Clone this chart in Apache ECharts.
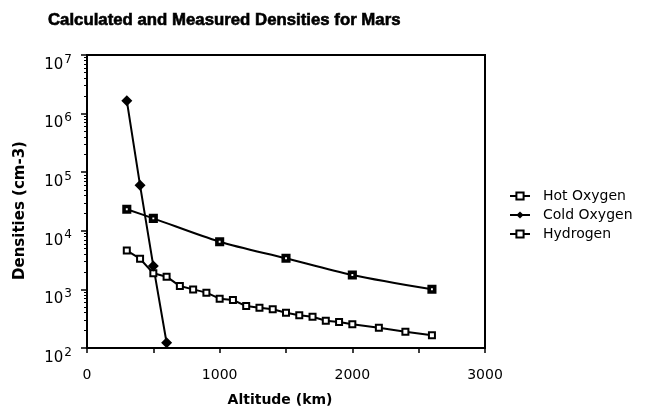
<!DOCTYPE html>
<html>
<head>
<meta charset="utf-8">
<script src="https://cdn.jsdelivr.net/npm/echarts@6/dist/echarts.min.js"></script>
<style>html,body{margin:0;padding:0;background:#fff;}#c{width:655px;height:407px;}</style>
</head>
<body>
<div id="c"></div>
<script>
var hotAlt = [300,400,500,600,700,800,900,1000,1100,1200,1300,1400,1500,1600,1700,1800,1900,2000,2200,2400,2600];
var hotDen = [4600,3340,1880,1650,1140,1000,880,695,660,520,487,458,400,361,342,292,278,254,222,190,165];
var coldAlt = [300,400,500,600];
var coldDen = [1660000,59700,2500,123];
var hydAlt = [300,500,1000,1500,2000,2600];
var hydDen = [23300,16300,6520,3395,1762,1004];
var xTicks = [0,1000,2000,3000];
var yMinor = [];
for (var d = 100; d < 1e7; d *= 10) { for (var k = 2; k <= 9; k++) yMinor.push(d * k); }

function pairs(a, b) { return a.map(function (v, i) { return [v, b[i]]; }); }

var FONT = 'Liberation Sans, Arial, Helvetica, sans-serif';
var WIDE = 'DejaVu Sans, sans-serif';
var chart = echarts.init(document.getElementById('c'), null, {renderer: 'canvas'});
chart.setOption({
  animation: false,
  backgroundColor: '#fff',
  title: {
    text: 'Calculated and Measured Densities for Mars',
    left: 43, top: 7,
    textStyle: {fontFamily: FONT, fontWeight: 'bold', fontSize: 16.8, color: '#000', textBorderColor: '#000', textBorderWidth: 0.6}
  },
  legend: {
    orient: 'vertical', left: 504, top: 184, itemGap: 5,
    itemWidth: 20, itemHeight: 9,
    textStyle: {fontFamily: WIDE, fontSize: 14, color: '#000', padding: [0, 0, 0, 8]},
    data: ['Hot Oxygen', 'Cold Oxygen', 'Hydrogen']
  },
  grid: {left: 87, top: 55, right: 170, bottom: 59, containLabel: false, outerBoundsMode: 'none',
    show: true, borderColor: '#000', borderWidth: 2, backgroundColor: 'transparent'},
  xAxis: {
    type: 'value', min: 0, max: 3000, interval: 500,
    name: 'Altitude (km)', nameLocation: 'middle', nameGap: 45,
    nameTextStyle: {fontFamily: WIDE, fontWeight: 'bold', fontSize: 14, color: '#000', padding: [0, 12, 0, 0]},
    axisLine: {lineStyle: {color: '#000', width: 2}},
    axisTick: {show: true, length: 5, lineStyle: {color: '#000', width: 1.5}},
    splitLine: {show: false},
    axisLabel: {
      margin: 20, fontFamily: WIDE, fontSize: 14, color: '#000',
      formatter: function (v) { return xTicks.indexOf(v) >= 0 ? String(v) : ''; }
    }
  },
  yAxis: [{
    type: 'log', logBase: 10, min: 100, max: 10000000,
    name: 'Densities (cm-3)', nameLocation: 'middle', nameGap: 59,
    nameTextStyle: {fontFamily: WIDE, fontWeight: 'bold', fontSize: 15, color: '#000', padding: [0, 18, 0, 0]},
    axisLine: {lineStyle: {color: '#000', width: 2}},
    axisTick: {show: true, length: 6, lineStyle: {color: '#000', width: 1.5}},
    splitLine: {show: false},
    axisLabel: {
      margin: 15, color: '#000', padding: [20, 0, 0, 0],
      formatter: function (v) { return '10{sup|' + Math.round(Math.log10(v)) + '}'; },
      rich: {
        sup: {fontFamily: WIDE, fontSize: 12, color: '#000', padding: [0, 0, 11, 1]}
      },
      fontFamily: WIDE, fontSize: 15
    }
  }, {
    type: 'log', logBase: 10, min: 100, max: 10000000, position: 'left',
    axisLine: {show: false},
    axisTick: {show: true, length: 3, customValues: yMinor, lineStyle: {color: '#000', width: 1}},
    axisLabel: {show: false},
    splitLine: {show: false}
  }],
  series: [{
    name: 'Hot Oxygen', type: 'line', data: pairs(hotAlt, hotDen),
    symbol: 'rect', symbolSize: 6,
    lineStyle: {color: '#000', width: 2},
    itemStyle: {color: '#fff', borderColor: '#000', borderWidth: 2}
  }, {
    name: 'Cold Oxygen', type: 'line', data: pairs(coldAlt, coldDen),
    symbol: 'diamond', symbolSize: 11,
    lineStyle: {color: '#000', width: 2},
    itemStyle: {color: '#000', borderColor: '#000', borderWidth: 0}
  }, {
    name: 'Hydrogen', type: 'line', data: pairs(hydAlt, hydDen),
    symbol: 'rect', symbolSize: 5.5, smooth: 0.3,
    lineStyle: {color: '#000', width: 2},
    itemStyle: {color: '#fff', borderColor: '#000', borderWidth: 3.6}
  }]
});
</script>
</body>
</html>
